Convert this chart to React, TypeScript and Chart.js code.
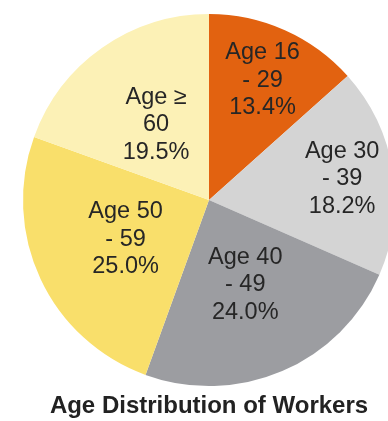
import React, { useEffect, useRef } from "react";
import { Chart, registerables } from "chart.js";

Chart.register(...registerables);

// Age bands, each split over two lines for the in-slice labels
const categories: string[][] = [
  ["Age 16", "- 29"],
  ["Age 30", "- 39"],
  ["Age 40", "- 49"],
  ["Age 50", "- 59"],
  ["Age \u2265", "60"],
];
// Share of workers per band, in percent
const shares: number[] = [13.4, 18.2, 24.0, 25.0, 19.5];
const sliceColors: string[] = ["#E26210", "#D4D4D4", "#9C9DA1", "#F9DF6B", "#FCF1B6"];
// How far out (fraction of the radius) each label sits
const labelDepth: number[] = [0.705, 0.725, 0.495, 0.495, 0.495];

const FONT = "'Liberation Sans', Arial, Helvetica, sans-serif";

const sliceLabels = {
  id: "sliceLabels",
  afterDatasetsDraw(chart: any) {
    const ctx = chart.ctx;
    const meta = chart.getDatasetMeta(0);
    ctx.save();
    ctx.fillStyle = "#262626";
    ctx.font = `23.5px ${FONT}`;
    ctx.textAlign = "center";
    ctx.textBaseline = "middle";
    const lh = 27.6;
    meta.data.forEach((arc: any, i: number) => {
      const { x, y, startAngle, endAngle, outerRadius } = arc.getProps(
        ["x", "y", "startAngle", "endAngle", "outerRadius"],
        true
      );
      const mid = (startAngle + endAngle) / 2;
      const r = outerRadius * labelDepth[i];
      const cx = x + Math.cos(mid) * r;
      const cy = y + Math.sin(mid) * r;
      const lines = [...categories[i], `${shares[i].toFixed(1)}%`];
      lines.forEach((t, k) => {
        ctx.fillText(t, cx, cy + (k - (lines.length - 1) / 2) * lh);
      });
    });
    ctx.restore();
  },
};

export default function App() {
  const ref = useRef<HTMLCanvasElement>(null);

  useEffect(() => {
    if (!ref.current) return;
    const chart = new Chart(ref.current, {
      type: "pie",
      data: {
        labels: categories.map((c) => c.join(" ")),
        datasets: [
          {
            data: shares,
            backgroundColor: sliceColors,
            borderWidth: 0,
            radius: 186,
          } as any,
        ],
      },
      options: {
        responsive: false,
        animation: false,
        layout: { padding: 0 },
        plugins: {
          legend: { display: false },
          tooltip: { enabled: false },
          title: {
            display: true,
            position: "bottom",
            text: "Age Distribution of Workers",
            color: "#222222",
            font: { family: FONT, size: 24, weight: "bold", lineHeight: 0.7 },
            padding: { top: -2, bottom: 6 },
          },
        },
      },
      plugins: [sliceLabels],
    });
    return () => chart.destroy();
  }, []);

  return (
    <div
      style={{
        position: "fixed",
        left: 0,
        top: 0,
        width: 388,
        height: 421,
        overflow: "hidden",
        background: "#ffffff",
      }}
    >
      <canvas ref={ref} width={418} height={421} style={{ display: "block" }} />
    </div>
  );
}
